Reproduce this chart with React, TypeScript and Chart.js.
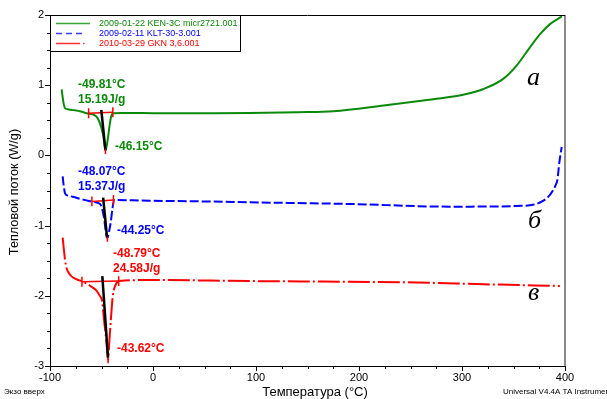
import React, { useEffect, useRef } from "react";
import { Chart, registerables } from "chart.js";

Chart.register(...registerables);

// DSC curves: temperature (°C) and heat flow (W/g)
const tempA = [-88.7, -87.6, -86.5, -85.2, -82, -77.4, -70, -64.4, -56.9, -53.7, -50.4, -48.2, -46.15, -44, -42.3, -40.7, -39, -30, -10, 20, 60, 94, 140, 175, 224, 272, 300, 321, 340, 353, 366, 376, 385.4, 397];
const heatA = [0.94, 0.82, 0.72, 0.67, 0.655, 0.645, 0.625, 0.6, 0.575, 0.53, 0.41, 0.27, 0.07, 0.22, 0.41, 0.55, 0.6, 0.605, 0.603, 0.6, 0.6, 0.604, 0.615, 0.628, 0.71, 0.8, 0.86, 0.946, 1.09, 1.28, 1.54, 1.73, 1.87, 1.98];

const tempB = [-87.7, -86.8, -85.4, -82, -77.7, -68, -58.9, -53, -50.6, -47.4, -45.8, -44.25, -42.6, -40.9, -39.3, -37.7, -20, -3, 50, 94, 191, 288, 330, 353, 370, 379, 385, 388.7, 391, 392.6, 394.5, 396.8];
const heatB = [-0.3, -0.42, -0.54, -0.575, -0.59, -0.63, -0.66, -0.68, -0.71, -0.9, -1.09, -1.18, -1.08, -0.94, -0.75, -0.635, -0.64, -0.645, -0.656, -0.668, -0.692, -0.73, -0.728, -0.72, -0.7, -0.645, -0.57, -0.49, -0.42, -0.35, -0.1, 0.12];

const tempC = [-87.7, -86.6, -85.4, -83.8, -80.6, -74.1, -67.7, -61.8, -55.3, -52.1, -49.4, -47.2, -45, -43.62, -42.3, -40.7, -39.1, -36.5, -32.6, -3, 94, 191, 256, 321, 395];
const heatC = [-1.17, -1.33, -1.49, -1.61, -1.7, -1.765, -1.8, -1.85, -1.92, -1.99, -2.08, -2.39, -2.68, -2.91, -2.63, -2.3, -2.01, -1.85, -1.79, -1.775, -1.79, -1.8, -1.81, -1.836, -1.86];

// Onset tangent lines (black)
const onsetTempA = [-50.2, -46.15];
const onsetHeatA = [0.65, 0.07];
const onsetTempB = [-48.4, -44.6];
const onsetHeatB = [-0.6, -1.17];
const onsetTempC = [-49.2, -43.7];
const onsetHeatC = [-1.72, -2.88];

// Peak integration limits (red)
const limitTempA = [-62.5, -39];
const limitHeatA = [0.6, 0.615];
const limitTempB = [-59.3, -38.4];
const limitHeatB = [-0.655, -0.635];
const limitTempC = [-69, -33.3];
const limitHeatC = [-1.8, -1.79];

// Peak minima
const peakTemps = [-46.15, -44.25, -43.62];
const peakHeats = [0.07, -1.18, -2.91];

const legendLabels = [
  "2009-01-22 KEN-3C micr2721.001",
  "2009-02-11 KLT-30-3.001",
  "2010-03-29 GKN 3,6.001",
];
const onsetLabels = ["-49.81°C", "-48.07°C", "-48.79°C"];
const enthalpyLabels = ["15.19J/g", "15.37J/g", "24.58J/g"];
const peakLabels = ["-46.15°C", "-44.25°C", "-43.62°C"];
const curveLetters = ["а", "б", "в"];

const xMin = -100;
const xMax = 400;
const yMin = -3;
const yMax = 2;

const GREEN = "#0a8a0a";
const BLUE = "#0000ff";
const RED = "#ff0000";
const COLORS = [GREEN, BLUE, RED];
const LEGEND_COLORS = ["#3aa63a", "#3a3aff", "#ff3030"];
const DASHES = [[], [9, 3], [22, 3, 2, 3]];
const SANS = "'Liberation Sans', Arial, sans-serif";

const pts = (t: number[], w: number[]) => t.map((v, i) => ({ x: v, y: w[i] }));

function buildDatasets() {
  const curves = [
    [tempA, heatA],
    [tempB, heatB],
    [tempC, heatC],
  ];
  const onsets = [
    [onsetTempA, onsetHeatA],
    [onsetTempB, onsetHeatB],
    [onsetTempC, onsetHeatC],
  ];
  const limits = [
    [limitTempA, limitHeatA],
    [limitTempB, limitHeatB],
    [limitTempC, limitHeatC],
  ];
  const tick = 0.07;
  const sets: any[] = [];
  curves.forEach(([t, w], i) => {
    sets.push({
      data: pts(t, w),
      borderColor: COLORS[i],
      borderWidth: 2,
      borderDash: DASHES[i],
      cubicInterpolationMode: "monotone",
      pointRadius: 0,
      order: 5,
    });
  });
  limits.forEach(([t, w]) => {
    sets.push({ data: pts(t, w), borderColor: RED, borderWidth: 1.5, pointRadius: 0, order: 2 });
    t.forEach((tv, k) => {
      sets.push({
        data: pts([tv, tv], [w[k] + tick, w[k] - tick]),
        borderColor: RED,
        borderWidth: 1.5,
        pointRadius: 0,
        order: 2,
      });
    });
  });
  onsets.forEach(([t, w]) => {
    sets.push({ data: pts(t, w), borderColor: "#000", borderWidth: 2.5, pointRadius: 0, order: 1 });
  });
  peakTemps.forEach((tv, i) => {
    sets.push({
      data: pts([tv, tv], [peakHeats[i] + 0.02, peakHeats[i] - 0.05]),
      borderColor: RED,
      borderWidth: 1.5,
      pointRadius: 0,
      order: 0,
    });
  });
  return sets;
}

// legend line samples as [start, length] runs along the row
const LEGEND_RUNS = [
  [[6, 34]],
  [[6, 6], [16, 6], [26, 6]],
  [[6, 24], [33, 1.5]],
];

const decorPlugin = {
  id: "decor",
  afterDraw(chart: any) {
    const { ctx, chartArea: a, scales } = chart;
    const sx = scales.x;
    const sy = scales.y;
    ctx.save();

    // right border
    ctx.strokeStyle = "#8a8a8a";
    ctx.lineWidth = 2;
    ctx.beginPath();
    ctx.moveTo(a.right, a.top);
    ctx.lineTo(a.right, a.bottom);
    ctx.stroke();

    // left / bottom / top axes
    ctx.strokeStyle = "#000";
    ctx.lineWidth = 1;
    ctx.beginPath();
    ctx.moveTo(a.left + 0.5, a.top);
    ctx.lineTo(a.left + 0.5, a.bottom + 0.5);
    ctx.lineTo(a.right, a.bottom + 0.5);
    ctx.moveTo(a.left, a.top + 0.5);
    ctx.lineTo(a.right, a.top + 0.5);
    for (let v = yMin; v <= yMax + 1e-6; v += 0.25) {
      const py = Math.round(sy.getPixelForValue(v)) + 0.5;
      const major = Math.abs(v - Math.round(v)) < 1e-6;
      ctx.moveTo(a.left, py);
      ctx.lineTo(a.left - (major ? 5 : 3), py);
    }
    for (let v = xMin; v <= xMax + 1e-6; v += 25) {
      const px = Math.round(sx.getPixelForValue(v)) + 0.5;
      const major = Math.abs(v % 100) < 1e-6;
      ctx.moveTo(px, a.bottom);
      ctx.lineTo(px, a.bottom + (major ? 5 : 3));
    }
    ctx.stroke();

    // legend box
    const lx = Math.round(a.left);
    const ly = Math.round(a.top);
    ctx.fillStyle = "#fff";
    ctx.fillRect(lx, ly, 190, 36);
    ctx.strokeStyle = "#000";
    ctx.strokeRect(lx + 0.5, ly + 0.5, 190, 36);
    ctx.font = `9px ${SANS}`;
    ctx.textBaseline = "middle";
    ctx.textAlign = "left";
    legendLabels.forEach((lab, i) => {
      const yy = ly + 8 + i * 10;
      ctx.fillStyle = LEGEND_COLORS[i];
      LEGEND_RUNS[i].forEach(([s, len]) => ctx.fillRect(lx + s, yy - 0.25, len, 1.5));
      ctx.fillStyle = COLORS[i];
      ctx.fillText(lab, lx + 49, yy + 0.5);
    });

    // peak annotations
    ctx.font = `bold 12px ${SANS}`;
    const onsetPos = [
      [78, 85],
      [78, 172],
      [113, 254],
    ];
    const peakPos = [
      [115, 147],
      [117, 231],
      [117, 349],
    ];
    onsetPos.forEach(([px, py], i) => {
      ctx.fillStyle = COLORS[i];
      ctx.fillText(onsetLabels[i], px, py);
      ctx.fillText(enthalpyLabels[i], px, py + 15);
      ctx.fillText(peakLabels[i], peakPos[i][0], peakPos[i][1]);
    });

    // curve letters
    ctx.fillStyle = "#000";
    ctx.font = `italic 26px 'Liberation Serif', 'Times New Roman', serif`;
    ctx.textBaseline = "alphabetic";
    const letterPos = [
      [527, 85],
      [528, 228],
      [528, 300],
    ];
    letterPos.forEach(([px, py], i) => ctx.fillText(curveLetters[i], px, py));

    // axis titles and footnotes
    ctx.textBaseline = "middle";
    ctx.textAlign = "center";
    ctx.font = `13px ${SANS}`;
    ctx.fillText("Температура (°C)", 315, 392);
    ctx.save();
    ctx.translate(14, 192);
    ctx.rotate(-Math.PI / 2);
    ctx.font = `12.7px ${SANS}`;
    ctx.fillText("Тепловой поток (W/g)", 0, 0);
    ctx.restore();
    ctx.font = `8px ${SANS}`;
    ctx.textAlign = "left";
    ctx.fillText("Экзо вверх", 4, 392);
    ctx.fillText("Universal V4.4A TA Instruments", 503, 392);

    ctx.restore();
  },
};

export default function App() {
  const ref = useRef<HTMLCanvasElement | null>(null);
  useEffect(() => {
    if (!ref.current) return;
    const chart = new Chart(ref.current, {
      type: "line",
      data: { datasets: buildDatasets() },
      options: {
        animation: false,
        responsive: false,
        devicePixelRatio: 1,
        layout: { padding: { top: 15, right: 42, left: 0, bottom: 0 } },
        plugins: { legend: { display: false }, tooltip: { enabled: false } },
        elements: { line: { tension: 0 } },
        scales: {
          x: {
            type: "linear",
            min: xMin,
            max: xMax,
            grid: { display: false, drawTicks: false },
            border: { display: false },
            ticks: {
              stepSize: 100,
              color: "#000",
              font: { size: 11, family: SANS },
              padding: 5,
              maxRotation: 0,
            },
            afterFit: (s: any) => {
              s.height = 33;
            },
          },
          y: {
            type: "linear",
            min: yMin,
            max: yMax,
            grid: { display: false, drawTicks: false },
            border: { display: false },
            ticks: {
              stepSize: 1,
              color: "#000",
              font: { size: 11, family: SANS },
              padding: 6,
            },
            afterFit: (s: any) => {
              s.width = 50;
            },
          },
        },
      },
      plugins: [decorPlugin],
    });
    return () => chart.destroy();
  }, []);
  return (
    <div style={{ position: "fixed", left: 0, top: 0, width: 607, height: 399, background: "#fff" }}>
      <canvas ref={ref} width={607} height={399} />
    </div>
  );
}
